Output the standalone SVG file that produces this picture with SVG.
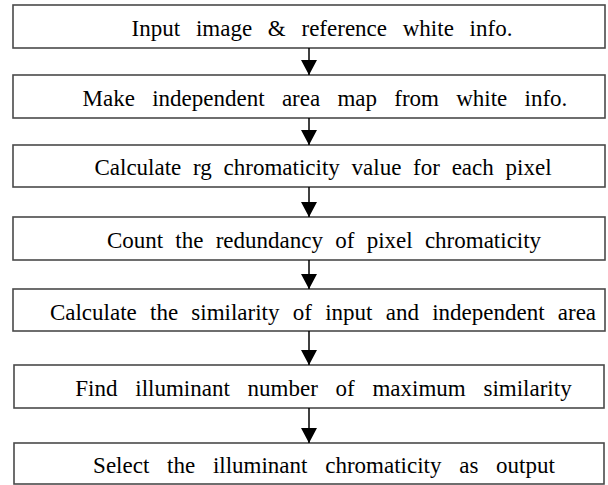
<svg xmlns="http://www.w3.org/2000/svg" width="608" height="485" viewBox="0 0 608 485">
<style>
.box{fill:#fff;stroke:#4a4a4a;stroke-width:1.6}
.lbl{font-family:"Liberation Serif","Times New Roman",Tinos,"DejaVu Serif",serif;font-size:23px;fill:#000;text-anchor:middle}
.con{stroke:#000;stroke-width:1.5;fill:none}
</style>
<defs>
<marker id="ah" markerUnits="userSpaceOnUse" markerWidth="15" markerHeight="16" viewBox="0 0 15 16" refX="15" refY="8" orient="auto">
<path d="M0,0 L15,8 L0,16 Z" fill="#000"/>
</marker>
</defs>
<rect width="608" height="485" fill="#fff"/>
<g id="n1"><rect class="box" x="13" y="5" width="592" height="43"/><text class="lbl" font-family="Liberation Serif, serif" x="322" y="36" style="word-spacing:10px">Input image &amp; reference white info.</text></g>
<g id="n2"><rect class="box" x="13" y="75" width="592" height="43"/><text class="lbl" font-family="Liberation Serif, serif" x="325" y="106" style="word-spacing:11.5px">Make independent area map from white info.</text></g>
<g id="n3"><rect class="box" x="13" y="145" width="592" height="42"/><text class="lbl" font-family="Liberation Serif, serif" x="323" y="175" style="word-spacing:6px">Calculate rg chromaticity value for each pixel</text></g>
<g id="n4"><rect class="box" x="13" y="217" width="592" height="43"/><text class="lbl" font-family="Liberation Serif, serif" x="324" y="248" style="word-spacing:6.5px">Count the redundancy of pixel chromaticity</text></g>
<g id="n5"><rect class="box" x="13" y="289" width="592" height="42"/><text class="lbl" font-family="Liberation Serif, serif" x="323" y="320" style="word-spacing:7.5px">Calculate the similarity of input and independent area</text></g>
<g id="n6"><rect class="box" x="14" y="365" width="590" height="43"/><text class="lbl" font-family="Liberation Serif, serif" x="323.5" y="396" style="word-spacing:12px">Find illuminant number of maximum similarity</text></g>
<g id="n7"><rect class="box" x="14" y="443" width="590" height="41"/><text class="lbl" font-family="Liberation Serif, serif" x="324" y="473" style="word-spacing:12px">Select the illuminant chromaticity as output</text></g>
<g id="connectors">
<line class="con" x1="309" y1="48" x2="309" y2="75" marker-end="url(#ah)"/>
<line class="con" x1="309" y1="118" x2="309" y2="145" marker-end="url(#ah)"/>
<line class="con" x1="309" y1="187" x2="309" y2="217" marker-end="url(#ah)"/>
<line class="con" x1="309" y1="260" x2="309" y2="289" marker-end="url(#ah)"/>
<line class="con" x1="309" y1="331" x2="309" y2="365" marker-end="url(#ah)"/>
<line class="con" x1="309" y1="408" x2="309" y2="443" marker-end="url(#ah)"/>
</g>
</svg>
